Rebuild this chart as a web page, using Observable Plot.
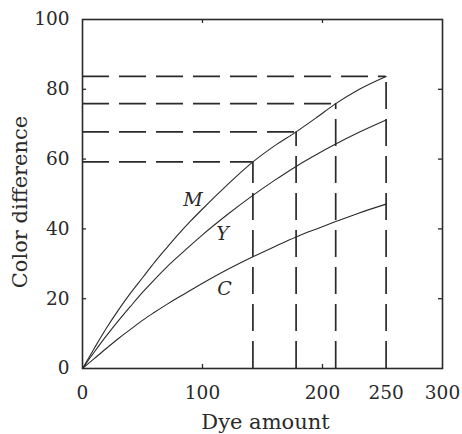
<!DOCTYPE html>
<html>
<head>
<meta charset="utf-8">
<script src="https://cdn.jsdelivr.net/npm/d3@7"></script>
<script src="https://cdn.jsdelivr.net/npm/@observablehq/plot@0.6"></script>
<style>
  html, body { margin: 0; padding: 0; background: #fff; }
</style>
</head>
<body>
<div id="chart"></div>
<script>
// Dye amount grid (x) and colour-difference readings for each dye
const dyeAmount = [0, 10, 20, 30, 40, 50, 60, 70, 80, 90, 100, 120, 142, 160, 178, 195, 211, 230, 253];
const seriesM = [0, 5.9, 11.6, 16.8, 21.6, 26.0, 30.4, 34.5, 38.5, 42.2, 45.7, 52.4, 59.2, 63.8, 67.8, 71.9, 75.9, 79.9, 83.7];
const seriesY = [0, 4.8, 9.4, 13.7, 17.8, 21.8, 25.5, 29.0, 32.2, 35.3, 38.3, 43.9, 49.6, 53.9, 57.9, 61.3, 64.3, 67.6, 71.2];
const seriesC = [0, 2.9, 5.8, 8.6, 11.2, 13.8, 16.1, 18.3, 20.4, 22.4, 24.4, 28.2, 32.0, 34.9, 37.7, 40.0, 42.1, 44.5, 47.1];

// Guide (dashed) lines: dye amounts and corresponding M colour differences
const guideX = [142, 178, 211, 253];
const guideY = [59.2, 67.8, 75.9, 83.7];

// Series labels and their positions
const seriesNames = ["M", "Y", "C"];
const labelX = [92, 116.7, 118.3];
const labelY = [48.2, 38.5, 22.9];

// Axis tick values and labels
const xTickValues = [0, 100, 200, 253, 300];
const xTickLabels = ["0", "100", "200", "250", "300"];
const xInnerTicks = [100, 200];
const yTickValues = [0, 20, 40, 60, 80, 100];
const yInnerTicks = [20, 40, 60, 80];

const xTitle = "Dye amount";
const yTitle = "Color difference";

const lines = [];
[["M", seriesM], ["Y", seriesY], ["C", seriesC]].forEach(([name, vals]) => {
  dyeAmount.forEach((x, i) => lines.push({series: name, x, y: vals[i]}));
});
const guides = guideX.map((x, i) => ({x, y: guideY[i]}));
const labels = seriesNames.map((s, i) => ({s, x: labelX[i], y: labelY[i]}));
const xLabelMap = new Map(xTickValues.map((v, i) => [v, xTickLabels[i]]));

const ink = "#2a2a2a";
const W = 462, H = 434;
const mL = 82, mR = 20, mT = 19, mB = 66;
const frameH = H - mT - mB, frameW = W - mL - mR;

const chart = Plot.plot({
  width: W,
  height: H,
  marginLeft: mL,
  marginRight: mR,
  marginTop: mT,
  marginBottom: mB,
  style: {fontFamily: "DejaVu Serif", fontSize: "18.5px", color: ink, background: "#fff"},
  x: {domain: [0, 300]},
  y: {domain: [0, 100]},
  marks: [
    // dashed guides
    Plot.ruleX(guides, {x: "x", y1: 0, y2: "y", stroke: ink, strokeWidth: 1.7, strokeDasharray: "27,10"}),
    Plot.ruleY(guides, {y: "y", x1: 0, x2: "x", stroke: ink, strokeWidth: 1.7, strokeDasharray: "27,10"}),
    // curves
    Plot.line(lines, {x: "x", y: "y", z: "series", stroke: ink, strokeWidth: 1.1, curve: "monotone-x"}),
    // series labels
    Plot.text(labels, {x: "x", y: "y", text: "s", fontStyle: "italic", fontSize: 19, fill: ink, fontFamily: "DejaVu Serif"}),
    // inward tick marks (bottom, top, left, right)
    Plot.ruleX(xInnerTicks, {x: d => d, insetTop: frameH - 4, stroke: ink, strokeWidth: 1.3}),
    Plot.ruleX(xInnerTicks, {x: d => d, insetBottom: frameH - 4, stroke: ink, strokeWidth: 1.3}),
    Plot.ruleY(yInnerTicks, {y: d => d, insetRight: frameW - 4, stroke: ink, strokeWidth: 1.3}),
    Plot.ruleY(yInnerTicks, {y: d => d, insetLeft: frameW - 4, stroke: ink, strokeWidth: 1.3}),
    // tick labels
    Plot.axisX({ticks: xTickValues, tickSize: 0, tickPadding: 17, tickFormat: d => xLabelMap.get(d), label: null, fill: ink}),
    Plot.axisY({ticks: yTickValues, tickSize: 0, tickPadding: 13, tickFormat: d => String(d), label: null, fill: ink}),
    // axis titles
    Plot.text([xTitle], {text: d => d, frameAnchor: "bottom", textAnchor: "middle", lineAnchor: "middle", dy: 54, dx: 3, fontSize: 21, fill: ink}),
    Plot.text([yTitle], {text: d => d, frameAnchor: "left", textAnchor: "middle", lineAnchor: "middle", rotate: -90, dx: -62, dy: 8, fontSize: 21, fill: ink}),
    Plot.frame({stroke: ink, strokeWidth: 1.6})
  ]
});
document.getElementById("chart").appendChild(chart);
</script>
</body>
</html>
